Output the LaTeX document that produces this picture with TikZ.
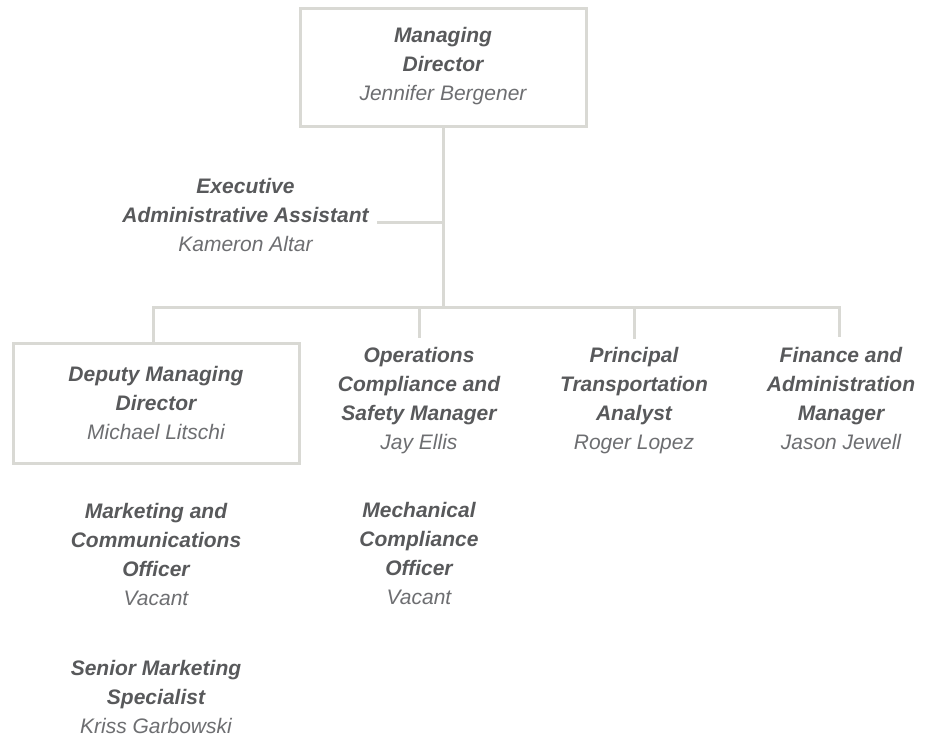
\documentclass[tikz,border=0pt]{standalone}
\usepackage{fontspec}
\setmainfont{Liberation Sans}
\definecolor{titlec}{HTML}{58595B}
\definecolor{namec}{HTML}{6D6E71}
\definecolor{linec}{HTML}{D9D9D4}
\newcommand{\ttl}[1]{\textbf{#1}}
\newcommand{\nm}[1]{{\mdseries\color{namec}#1}}
\tikzset{
  person/.style={align=center, anchor=base, inner sep=0pt, text=titlec,
    font=\fontsize{21}{29}\selectfont\itshape},
  orgbox/.style={draw=linec, line width=3pt, minimum width=286pt, inner sep=0pt},
  conn/.style={draw=linec, line width=3pt}
}
\begin{document}
\begin{tikzpicture}[x=1pt,y=-1pt]
\useasboundingbox (0,0) rectangle (932,736);
% boxes
\node[orgbox, minimum height=118pt] (mdbox) at (443,67) {};
\node[orgbox, minimum height=120pt] (dmbox) at (156,403) {};
% people (anchor = baseline of the last line)
\node[person] (md) at (443,100) {\ttl{Managing}\\\ttl{Director}\\\nm{Jennifer Bergener}};
\node[person] (ea) at (245.5,251) {\ttl{Executive}\\\ttl{Administrative Assistant}\\\nm{Kameron Altar}};
\node[person] (dm) at (156,439) {\ttl{Deputy Managing}\\\ttl{Director}\\\nm{Michael Litschi}};
\node[person] (ops) at (419,449) {\ttl{Operations}\\\ttl{Compliance and}\\\ttl{Safety Manager}\\\nm{Jay Ellis}};
\node[person] (pta) at (634,449) {\ttl{Principal}\\\ttl{Transportation}\\\ttl{Analyst}\\\nm{Roger Lopez}};
\node[person] (fam) at (841,449) {\ttl{Finance and}\\\ttl{Administration}\\\ttl{Manager}\\\nm{Jason Jewell}};
\node[person] (mco) at (156,605) {\ttl{Marketing and}\\\ttl{Communications}\\\ttl{Officer}\\\nm{Vacant}};
\node[person] (mech) at (419,604) {\ttl{Mechanical}\\\ttl{Compliance}\\\ttl{Officer}\\\nm{Vacant}};
\node[person] (sms) at (156,733) {\ttl{Senior Marketing}\\\ttl{Specialist}\\\nm{Kriss Garbowski}};
% connector points
\coordinate (trunk) at (443,307);
\coordinate (eaend) at (377,222);
\coordinate (busL) at (153,307);
\coordinate (busR) at (839,307);
\coordinate (opstop) at (419,338);
\coordinate (ptatop) at (634,339);
\coordinate (famtop) at (839,337);
% connectors
\draw[conn] (mdbox.south) -- (trunk);
\draw[conn] (eaend) -- (eaend -| mdbox.south);
\draw[conn] (dmbox.north -| busL) -- (busL) -- (busR) -- (famtop);
\draw[conn] (opstop |- busL) -- (opstop);
\draw[conn] (ptatop |- busL) -- (ptatop);
\end{tikzpicture}
\end{document}
